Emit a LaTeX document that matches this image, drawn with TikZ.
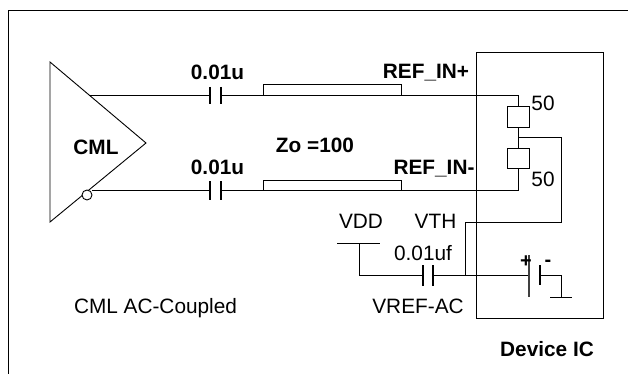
\documentclass[tikz,border=0pt]{standalone}
\usepackage{fontspec}
\setmainfont{Liberation Sans}
\begin{document}
\begin{tikzpicture}[x=1pt,y=-1pt,line width=0.9pt,
  lbl/.style={anchor=base,inner sep=0pt,font=\fontsize{20.8}{24}\selectfont},
  blbl/.style={anchor=base,inner sep=0pt,font=\fontsize{20.8}{24}\selectfont\bfseries},
  wire/.style={draw=black,line width=0.9pt},
  plate/.style={draw=black,line width=1.1pt},
  bigplate/.style={draw=black!75,line width=1.9pt}]
\useasboundingbox (0,0) rectangle (628,374);
% outer frame (left and top only)
\draw[wire] (8,374) -- (8,10) -- (628,10);
% CML driver
\coordinate (tA) at (50,62);
\coordinate (tip) at (146,143);
\coordinate (tB) at (50,222);
\draw[wire] (tA) -- (tip) -- (tB) -- cycle;
\node[draw,circle,minimum size=10pt,inner sep=0pt,line width=0.9pt,fill=white] (bub) at (87,195) {};
\node[blbl] (cml) at (96,154) {CML};
% key points
\coordinate (p0) at (89,95);
\coordinate (c1a) at (210,95);
\coordinate (c1b) at (221,95);
\coordinate (n0) at (92,190);
\coordinate (c2a) at (210,190);
\coordinate (c2b) at (221,190);
\coordinate (rt) at (518,95);
\coordinate (rb) at (518,190);
\coordinate (mid) at (518,137);
% capacitors on the pair
\draw[plate] (210,87) -- (210,104) (221,87) -- (221,104);
\draw[plate] (210,181) -- (210,200) (221,181) -- (221,200);
\draw[wire] (p0) -- (c1a);
\draw[wire] (n0) -- (c2a);
% transmission lines
\draw[wire] (263,95) |- (401,84) -- (401,95);
\draw[wire] (263,190) |- (401,180) -- (401,190);
% resistors
\node[draw,line width=0.9pt,minimum width=22pt,minimum height=21pt,inner sep=0pt] (r1) at (518,116.5) {};
\node[draw,line width=0.9pt,minimum width=22pt,minimum height=20pt,inner sep=0pt] (r2) at (518,158) {};
\draw[wire] (c1b) -- (rt) -- (r1.north);
\draw[wire] (c2b) -- (rb) -- (r2.south);
\draw[wire] (r1.south) -- (r2.north);
% VTH network
\coordinate (vth) at (465,275);
\draw[wire] (mid) -- (561,137) -- (561,222) -- (465,222) -- (vth);
% VDD and reference cap
\coordinate (vdd) at (359,243);
\draw[wire] (337,243) -- (380,243);
\draw[wire] (vdd) |- (423,275);
\draw[plate] (423,265) -- (423,286) (433,265) -- (433,286);
\draw[wire] (433,275) -- (529,275);
% battery
\draw[bigplate] (529,255) -- (529,297);
\draw[plate] (540,265) -- (540,285);
\coordinate (gnd) at (561,297);
\draw[wire] (540,275) -- (561,275) -- (gnd);
\draw[wire] (550,297) -- (572,297);
\node[anchor=center,inner sep=0pt,font=\fontsize{20}{24}\selectfont\bfseries] (plus) at (526,262) {+};
\node[anchor=center,inner sep=0pt,font=\fontsize{20}{24}\selectfont\bfseries] (minus) at (548,263) {-};
% device IC box
\draw[wire] (476,52) rectangle (603,318);
% labels
\node[blbl] (c1l) at (217.5,80) {0.01u};
\node[blbl] (c2l) at (217.5,175) {0.01u};
\node[blbl] (zo) at (315,153) {Zo =100};
\node[blbl] (refp) at (426,79) {REF\_IN+};
\node[blbl] (refn) at (434,175) {REF\_IN-};
\node[lbl] (r1l) at (543,111) {50};
\node[lbl] (r2l) at (543,186) {50};
\node[lbl] (vddl) at (361,228) {VDD};
\node[lbl] (vthl) at (435.5,228) {VTH};
\node[lbl] (cfl) at (423,260) {0.01uf};
\node[lbl] (vref) at (418,313) {VREF-AC};
\node[lbl] (acc) at (155.5,313) {CML AC-Coupled};
\node[blbl] (dev) at (547,356) {Device IC};
\end{tikzpicture}
\end{document}
